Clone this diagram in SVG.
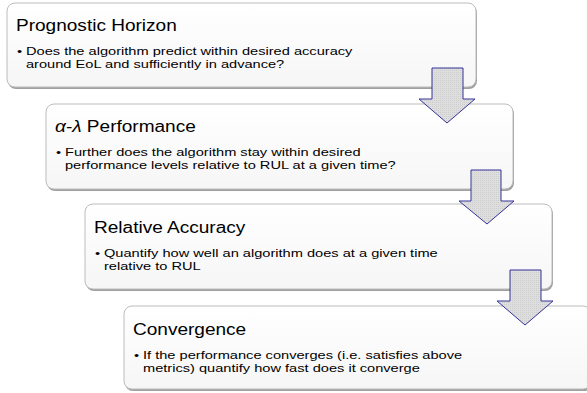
<svg xmlns="http://www.w3.org/2000/svg" width="587" height="393" viewBox="0 0 587 393">
<defs>
<linearGradient id="boxfill" x1="0" y1="0" x2="0" y2="1">
<stop offset="0" stop-color="#ffffff"/>
<stop offset="1" stop-color="#f6f6f6"/>
</linearGradient>
<pattern id="dots" width="2" height="2" patternUnits="userSpaceOnUse">
<rect width="2" height="2" fill="#dedede"/>
<rect width="1" height="1" fill="#cdcdcd"/>
</pattern>
</defs>
<style>
.shadow{fill:#a0a0a0;}
.box{fill:url(#boxfill);stroke:#bcbcbc;stroke-width:1;}
.title{font-family:"Liberation Sans",Arial,sans-serif;font-size:16px;fill:#000;}
.body{font-family:"Liberation Sans",Arial,sans-serif;font-size:12.5px;fill:#000;}
.arrow{fill:url(#dots);stroke:#333399;stroke-width:1;}
</style>
<g id="node1">
<rect class="shadow" x="8" y="5" width="469" height="84" rx="8"/>
<rect class="box" x="7" y="3" width="469" height="84" rx="8"/>
<text class="title" transform="translate(16 31) scale(1.19 1)">Prognostic Horizon</text>
<text class="body" transform="translate(17 55) scale(1.17 0.9)">•</text>
<text class="body" transform="translate(26 55) scale(1.17 0.9)">Does the algorithm predict within desired accuracy</text>
<text class="body" transform="translate(26 67.8) scale(1.17 0.9)">around EoL and sufficiently in advance?</text>
</g>
<g id="node2">
<rect class="shadow" x="47" y="106" width="467" height="85" rx="8"/>
<rect class="box" x="46" y="104" width="467" height="85" rx="8"/>
<text class="title" transform="translate(55 132) scale(1.19 1)"><tspan font-style="italic">α-λ</tspan> Performance</text>
<text class="body" transform="translate(56 156) scale(1.17 0.9)">•</text>
<text class="body" transform="translate(65 156) scale(1.17 0.9)">Further does the algorithm stay within desired</text>
<text class="body" transform="translate(65 168.8) scale(1.17 0.9)">performance levels relative to RUL at a given time?</text>
</g>
<g id="node3">
<rect class="shadow" x="86" y="206" width="467" height="85" rx="8"/>
<rect class="box" x="85" y="204" width="467" height="85" rx="8"/>
<text class="title" transform="translate(94 233) scale(1.19 1)">Relative Accuracy</text>
<text class="body" transform="translate(95 257) scale(1.17 0.9)">•</text>
<text class="body" transform="translate(104 257) scale(1.17 0.9)">Quantify how well an algorithm does at a given time</text>
<text class="body" transform="translate(104 269.8) scale(1.17 0.9)">relative to RUL</text>
</g>
<g id="node4">
<rect class="shadow" x="125" y="308" width="467" height="83" rx="8"/>
<rect class="box" x="124" y="306" width="467" height="83" rx="8"/>
<text class="title" transform="translate(133 335) scale(1.19 1)">Convergence</text>
<text class="body" transform="translate(134 359) scale(1.17 0.9)">•</text>
<text class="body" transform="translate(143 359) scale(1.17 0.9)">If the performance converges (i.e. satisfies above</text>
<text class="body" transform="translate(143 371.8) scale(1.17 0.9)">metrics) quantify how fast does it converge</text>
</g>
<g id="connectors">
<path class="arrow" d="M432,68 H463 V99 H475 L447,123 L419,99 H432 Z"/>
<path class="arrow" d="M471,170 H501 V201 H514 L487,224 L459,201 H471 Z"/>
<path class="arrow" d="M510,270 H541 V301 H553 L525,325 L497,301 H510 Z"/>
</g>
</svg>
